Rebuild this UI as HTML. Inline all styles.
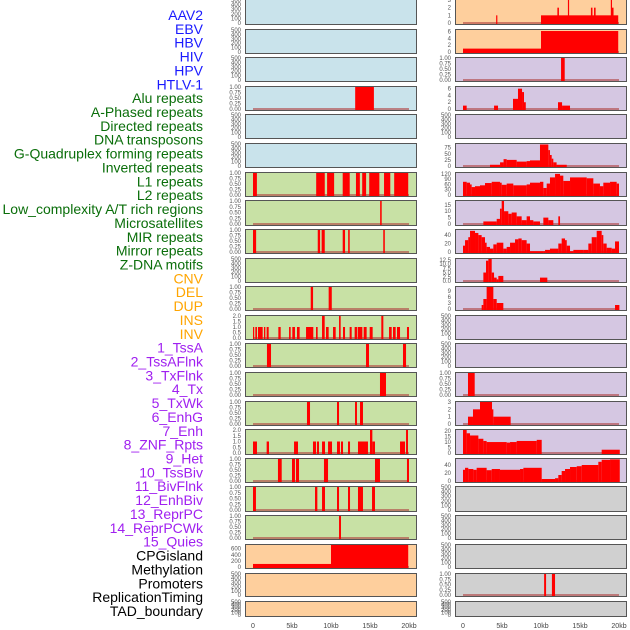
<!DOCTYPE html>
<html><head><meta charset="utf-8">
<style>
html,body{margin:0;padding:0;background:#fff;}
svg{display:block;font-family:"Liberation Sans",sans-serif;}
</style></head>
<body>
<svg id="chart" width="630" height="630" viewBox="0 0 630 630"></svg>
<script>
// ---- track labels ----
const trackLabels = ["AAV2","EBV","HBV","HIV","HPV","HTLV-1","Alu repeats","A-Phased repeats","Directed repeats","DNA transposons","G-Quadruplex forming repeats","Inverted repeats","L1 repeats","L2 repeats","Low_complexity A/T rich regions","Microsatellites","MIR repeats","Mirror repeats","Z-DNA motifs","CNV","DEL","DUP","INS","INV","1_TssA","2_TssAFlnk","3_TxFlnk","4_Tx","5_TxWk","6_EnhG","7_Enh","8_ZNF_Rpts","9_Het","10_TssBiv","11_BivFlnk","12_EnhBiv","13_ReprPC","14_ReprPCWk","15_Quies","CPGisland","Methylation","Promoters","ReplicationTiming","TAD_boundary"];
const labelGroups = [6,13,5,15,5];
const groupColors = ["#1a1aff","#0a6e0a","#ffa500","#a020f0","#000000"];
const xTicks = [0,5,10,15,20];
const xTickLabels = ["0","5kb","10kb","15kb","20kb"];

// ---- left column data: segments [startKb, endKb, value] ----
const leftMax = [500,500,500,1,500,500,1,1,1,500,1,2,1,1,1,2,1,1,1,720,500,500];
const leftAlu = [[13.1,15.5,1]];
const leftL1 = [[0,0.5,1],[8.1,9.2,1],[9.5,10.4,1],[11.5,12.4,1],[13.2,13.7,1],[14.0,14.5,1],[14.9,16.2,1],[16.8,17.6,1],[18.1,19.9,1]];
const leftLowComplex = [[16.3,16.5,1]];
const leftMIR = [[0,0.4,1],[8.3,8.6,1],[8.8,9.2,1],[11.5,11.8,1],[12.2,12.4,1],[16.7,16.9,1]];
const leftDEL = [[7.4,7.7,1],[9.7,10.1,1]];
const leftINS = [[0,0.13,1],[0.3,0.51,1],[0.64,1.24,1],[1.41,1.58,1],[1.75,2.01,1],[3.25,3.55,1],[4.62,4.83,1],[5.04,5.38,1],[5.64,5.98,1],[6.8,7.73,1],[8.08,8.29,1],[8.85,9.19,2],[9.36,9.7,1],[10.26,10.6,1],[11.03,11.24,2],[11.54,11.8,1],[12.39,12.65,1],[13.03,13.33,1],[13.42,14.02,1],[14.19,14.57,1],[14.96,15.34,1],[16.45,16.71,2],[17.44,17.78,1],[17.95,18.29,1],[18.46,18.85,1],[19.74,20,1]];
const leftTssA = [[1.79,2.31,1],[14.49,14.87,1],[19.23,19.62,1]];
const leftTxFlnk = [[16.28,17.05,1]];
const leftTxWk = [[6.92,7.31,1],[10.77,11.03,1],[13.08,13.33,1],[13.72,14.1,1]];
const leftEnh = [[0,0.51,1],[1.75,2.05,1],[5.26,5.77,1],[7.69,8.08,1],[8.2,8.46,1],[8.85,9.23,1],[9.62,10.13,1],[10.77,11.15,1],[11.28,11.54,1],[12.18,12.44,1],[13.46,14.74,1],[15.0,15.3,2],[15.3,15.64,1],[18.85,19.49,1],[19.62,19.87,2]];
const leftHet = [[3.2,3.68,1],[5.0,5.38,1],[5.51,5.9,1],[9.1,9.62,1],[15.64,16.28,1],[19.74,20,1]];
const leftBivFlnk = [[0,0.38,1],[7.95,8.25,1],[8.85,9.23,1],[10.77,11.03,1],[12.18,12.44,1],[13.46,14.1,1],[15.26,15.64,1]];
const leftReprPC = [[11.03,11.28,1]];
const leftCPG = [[0,10,100],[10,19.9,720]];
const leftData = [null,null,null,leftAlu,null,null,leftL1,leftLowComplex,leftMIR,null,leftDEL,leftINS,leftTssA,leftTxFlnk,leftTxWk,leftEnh,leftHet,leftBivFlnk,leftReprPC,leftCPG,null,null];

// ---- right column data ----
const rightMax = [3,6.5,1,6.5,500,90,125,18,52,13,11,500,500,1,3,21,55,500,500,500,1,500];
const rightAAV2 = [[10,19.9,1],[4.25,4.4,1],[12.1,12.3,2],[13.45,13.6,3],[16.4,16.6,2],[16.8,17.0,2],[18.95,19.1,3],[19.1,19.3,2]];
const rightEBV = [[0,10,1],[10,19.9,6.2]];
const rightHIV = [[12.57,13.04,1]];
const rightHPV = [[0,0.47,1],[3.98,4.49,1],[6.41,7.05,3],[7.05,7.57,6],[7.57,7.82,5],[7.82,8.05,2],[12.18,12.7,2],[12.7,13.72,1]];
const gquadBreaks = [3.46,4.75,5.2,5.6,6.88,8.16,8.59,9.87,10.94,11.15,11.37,11.58,12.0,13.3];
const gquadValues = [5,15,28,25,18,20,23,88,65,45,30,15,5];
const l1Breaks = [0,0.47,0.9,1.11,1.54,2.18,2.82,3.68,4.74,4.96,5.6,6.45,8.16,8.59,9.87,10.3,10.73,11.15,11.8,12.44,12.86,13.72,15.86,16.71,17.56,17.99,18.85,19.7,20];
const l1Values = [75,70,60,45,50,55,68,75,70,58,65,55,60,70,75,40,65,100,120,110,80,100,95,65,50,70,75,65];
const l2Breaks = [2.61,4.32,4.74,4.96,5.26,5.81,6.24,6.88,7.52,8.16,8.59,9.02,9.87,10.3,10.94,11.58,12.22,12.44];
const l2Values = [2,4,12,18,10,8,9,6,3,6,3,2,0,5,3,0,6,3];
const mirBreaks = [0,0.26,0.68,0.9,1.54,1.97,2.39,2.82,3.03,3.46,3.89,4.32,5.17,5.6,6.03,6.67,7.1,7.52,8.16,8.59,10.3,10.52,11.15,12.22,12.65,13.08,13.3,13.72,14.15,15.43,16.07,16.5,17.14,17.78,17.99,18.42,19.06,19.49,20];
const mirValues = [15,28,35,50,45,40,35,22,12,8,18,22,8,12,22,30,32,28,20,2,2,5,8,20,32,28,15,2,5,5,20,35,50,40,20,10,8,25,30];
const rightMicro = [[2.61,2.95,5],[2.95,3.25,12],[3.25,3.68,13],[3.68,3.98,5],[3.98,4.32,2],[4.32,4.53,1],[4.53,5.17,3],[9.87,10.81,2]];
const rightZdna = [[2.39,2.61,2],[2.61,3.03,5],[3.03,3.89,11],[3.89,4.32,5],[4.32,5.17,3],[19.49,20.05,2]];
const rightTxFlnk = [[0.64,1.5,1]];
const rightTxWk = [[0.64,1.28,1],[1.28,2.18,2],[2.18,3.72,3],[3.72,3.89,2],[3.89,6.11,1]];
const enhBreaks = [0,0.47,0.9,1.97,2.61,3.03,3.46,5.6,6.03,6.88,9.45,10.09];
const enhValues = [21,18,16,13,11,10,10,9.5,10,11,12];
const rightEnhTail = [[17.78,20.1,3]];
const hetBreaks = [0,0.26,0.68,1.33,1.75,3.03,3.68,4.1,4.74,7.31,7.74,10.09,11.8,12.22,12.65,13.08,13.72,14.58,15.22,17.35,17.78,18.85,20.1];
const hetValues = [28,33,30,28,33,27,30,30,28,30,33,5,7,15,25,30,35,37,40,48,53,54];
const rightPromoters = [[10.4,10.65,1],[11.4,11.8,1]];

function stepSegs(b, v){ const s=[]; for(let i=0;i<v.length;i++){ if(v[i]>0) s.push([b[i],b[i+1],v[i]]);} return s; }
const rightData = [rightAAV2,rightEBV,rightHIV,rightHPV,null,stepSegs(gquadBreaks,gquadValues),stepSegs(l1Breaks,l1Values),stepSegs(l2Breaks,l2Values),stepSegs(mirBreaks,mirValues),rightMicro,rightZdna,null,null,rightTxFlnk,rightTxWk,stepSegs(enhBreaks,enhValues).concat(rightEnhTail),stepSegs(hetBreaks,hetValues),null,null,null,rightPromoters,null];

const tickSets = {
  1:["0.00","0.25","0.50","0.75","1.00"], 2:["0.0","0.5","1.0","1.5","2.0"], 3:["0","1","2","3"], 500:["0","100","200","300","400","500"],
  720:["0","200","400","600"], 6.5:["0","2","4","6"], 90:["0","25","50","75"], 125:["0","30","60","90","120"],
  18:["0","5","10","15"], 52:["0","20","40"], 13:["0.0","2.5","5.0","7.5","10.0","12.5"], 11:["0","3","6","9"],
  21:["0","5","10","15","20"], 55:["0","20","40"]
};
const tickVals = {1:[0,.25,.5,.75,1],2:[0,.5,1,1.5,2],3:[0,1,2,3],500:[0,100,200,300,400,500],720:[0,200,400,600],6.5:[0,2,4,6],90:[0,25,50,75],125:[0,30,60,90,120],18:[0,5,10,15],52:[0,20,40],13:[0,2.5,5,7.5,10,12.5],11:[0,3,6,9],21:[0,5,10,15,20],55:[0,20,40]};

// ---- layout ----
const rowTops = [-1,29,57,86,114,143,172,200,229,258,286,315,343,372,401,429,458,486,515,544,573,601];
const rowH = [26,25,25,25,25,25,25,26,25,25,25,25,25,25,25,26,25,26,25,25,24,16];
const leftBg = i => i<6?"#c9e3eb":(i<19?"#c8e1a5":"#fecf9d");
const rightBg = i => i<2?"#fecf9d":(i<17?"#d5c7e2":"#d0d0d0");
const cols = [{x:245,w:171,x0:253,bg:leftBg,data:leftData,max:leftMax,name:"left"},{x:455,w:171,x0:463,bg:rightBg,data:rightData,max:rightMax,name:"right"}];
const kbPx = 7.8;

const svg = document.getElementById('chart');
const NS = "http://www.w3.org/2000/svg";
function mk(tag, attrs, parent){ const e=document.createElementNS(NS,tag); for(const k in attrs) e.setAttribute(k,attrs[k]); (parent||svg).appendChild(e); return e; }

// labels
let li=0;
labelGroups.forEach((n,g)=>{ for(let k=0;k<n;k++){
  const t=mk('text',{x:203,y:20+li*13.86,'text-anchor':'end','font-size':14,fill:groupColors[g]});
  t.textContent=trackLabels[li];
  
  
  li++; }});

cols.forEach(c=>{
  const xs = kb => c.x0 + kb*kbPx;
  rowTops.forEach((top,i)=>{
    const h=rowH[i], ymax=c.max[i];
    const g=mk('g',{});
    
    
    mk('rect',{x:c.x+0.5,y:top+0.5,width:c.w,height:h-1,fill:c.bg(i),stroke:'#555','stroke-width':1},g);
    const bottom=top+h-2, ph=h-3;
    const ys = v => bottom - v/ymax*ph;
    const segs=c.data[i];
    if(segs){
      mk('line',{x1:xs(0),x2:xs(20),y1:bottom,y2:bottom,stroke:'#b04040','stroke-width':1.5,opacity:0.8},g);
      segs.forEach(s=>{
        const r=mk('rect',{x:xs(Math.max(0,s[0])),y:ys(s[2]),width:Math.max(1.2,(s[1]-Math.max(0,s[0]))*kbPx),height:bottom-ys(s[2])+1,fill:'#ff0000'},g);
        
        
      });
    }
    const tv=tickVals[ymax]||[], tl=tickSets[ymax]||[];
    tv.forEach((v,k)=>{
      const t=mk('text',{x:c.x-4,y:ys(v)+2,'text-anchor':'end','font-size':6,fill:'#555'},g);
      t.textContent=tl[k];
    });
  });
  xTicks.forEach((v,k)=>{
    const t=mk('text',{x:xs(v),y:628,'text-anchor':'middle','font-size':7,fill:'#444'});
    t.textContent=xTickLabels[k];
    
    
  });
});
</script>
</body></html>
